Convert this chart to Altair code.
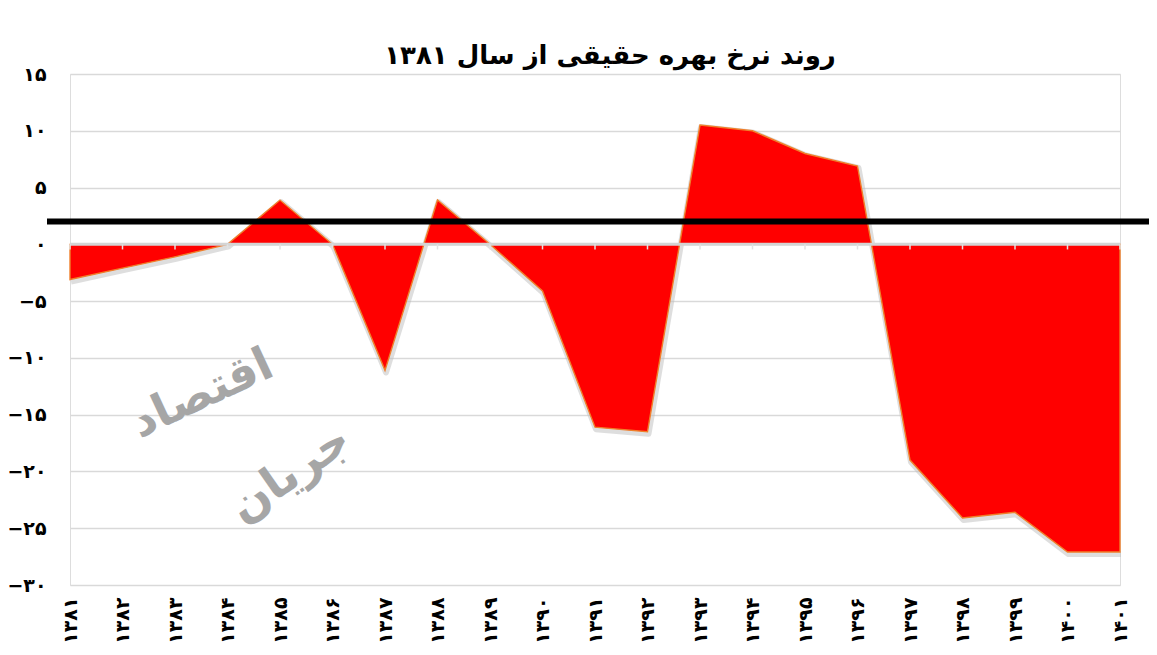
import altair as alt
import pandas as pd

# ---- data ----
years = [1381, 1382, 1383, 1384, 1385, 1386, 1387, 1388, 1389, 1390, 1391,
         1392, 1393, 1394, 1395, 1396, 1397, 1398, 1399, 1400, 1401]
rates = [-3.1, -2.1, -1.1, 0.0, 3.9, 0.0, -11.1, 3.9, 0.0, -4.1, -16.1,
         -16.5, 10.5, 10.0, 8.0, 6.9, -19.0, -24.1, -23.6, -27.1, -27.1]
y_ticks = [15, 10, 5, 0, -5, -10, -15, -20, -25, -30]
ref_level = [2.0]
title_text = "روند نرخ بهره حقیقی از سال ۱۳۸۱"
watermark_words = ["اقتصاد", "جریان"]

FA = "۰۱۲۳۴۵۶۷۸۹"


def fa_expr(base):
    e = base
    for d in range(10):
        e = f"replace({e}, regexp('{d}', 'g'), '{FA[d]}')"
    return e


df = pd.DataFrame({"year": years, "rate": rates})
FONT = "DejaVu Sans"
W, H = 1050, 511

x_enc = alt.X(
    "year:Q",
    scale=alt.Scale(domain=[years[0], years[-1]], nice=False, zero=False),
    axis=alt.Axis(
        values=years, format="d", labelExpr=fa_expr("datum.label"),
        labelAngle=-90, labelPadding=12, labelFontSize=19, labelFont=FONT,
        labelFontWeight="bold", labelColor="#000000", domain=False,
        ticks=False, grid=False, title=None, labelOverlap=False,
    ),
)
y_scale = alt.Scale(domain=[-30, 15], nice=False)
y_enc = alt.Y(
    "rate:Q",
    scale=y_scale,
    axis=alt.Axis(
        values=y_ticks, format="d", labelExpr=fa_expr("datum.label"),
        labelPadding=24, labelFontSize=19, labelFont=FONT,
        labelFontWeight="bold", labelColor="#000000", domain=False,
        ticks=False, grid=True, gridColor="#d9d9d9", gridWidth=1.5,
        title=None,
    ),
)

base = alt.Chart(df)

shadow = base.mark_line(color="#bdbdbd", strokeWidth=6, opacity=0.5,
                        xOffset=1, yOffset=2, strokeJoin="round").encode(
    x=x_enc, y=y_enc)

area = base.mark_area(color="#ff0000", stroke="#f07f2a", strokeWidth=1.4,
                      fillOpacity=1, line=False).encode(
    x=x_enc, y=y_enc, y2=alt.datum(0))

zero_rule = alt.Chart(pd.DataFrame({"z": [0]})).mark_rule(
    color="#d4d4d4", strokeWidth=3).encode(
    y=alt.Y("z:Q", scale=y_scale), x=alt.value(0), x2=alt.value(W))

ticks = base.mark_rule(color="#e2e2e2", strokeWidth=1.5).encode(
    x=x_enc, y=alt.datum(0, scale=y_scale), y2=alt.datum(-0.45))

black = alt.Chart(pd.DataFrame({"lvl": ref_level})).mark_rule(
    color="#000000", strokeWidth=6).encode(
    y=alt.Y("lvl:Q", scale=y_scale), x=alt.value(-23), x2=alt.value(1079))

wm1 = alt.Chart(pd.DataFrame({"t": [watermark_words[0]]})).mark_text(
    font=FONT, fontSize=46, fontWeight="bold", color="#a6a6a6",
    angle=335, align="center", baseline="middle").encode(
    text="t:N", x=alt.value(132), y=alt.value(320))

wm2 = alt.Chart(pd.DataFrame({"t": [watermark_words[1]]})).mark_text(
    font=FONT, fontSize=46, fontWeight="bold", color="#a6a6a6",
    angle=325, align="center", baseline="middle").encode(
    text="t:N", x=alt.value(220), y=alt.value(400))

chart = alt.layer(shadow, area, zero_rule, ticks, black, wm1, wm2).properties(
    width=W, height=H,
    title=alt.TitleParams(title_text, font=FONT, fontSize=26,
                          fontWeight="bold", color="#000000",
                          anchor="middle", dx=15, dy=12, offset=8),
    autosize=alt.AutoSizeParams(type="none"),
    padding={"left": 62, "top": 66, "right": 29, "bottom": 62},
).configure_view(stroke=None).configure(background="#ffffff")

chart.save("out.html", embed_options={"renderer": "svg", "actions": False})
